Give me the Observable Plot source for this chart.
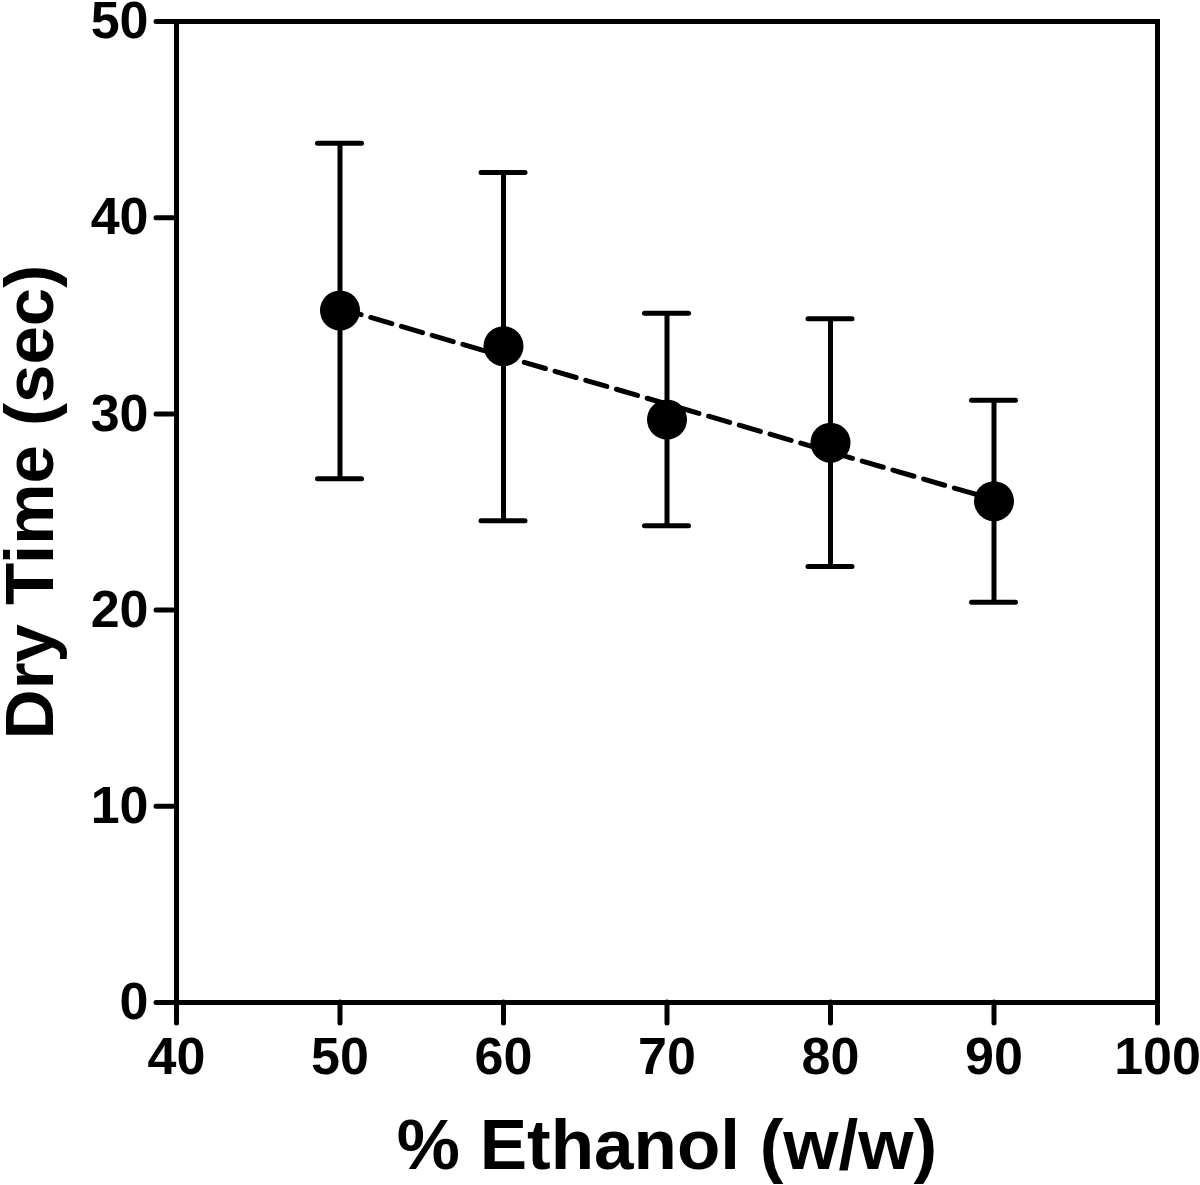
<!DOCTYPE html>
<html>
<head>
<meta charset="utf-8">
<script src="https://cdn.jsdelivr.net/npm/d3@7"></script>
<script src="https://cdn.jsdelivr.net/npm/@observablehq/plot@0.6"></script>
<style>
  html, body { margin: 0; padding: 0; background: #fff; }
  #chart svg { display: block; }
</style>
</head>
<body>
<div id="chart"></div>
<script>
const ethanol = [50, 60, 70, 80, 90];
const dryTime = [35.27, 33.45, 29.71, 28.53, 25.55];
const errHigh = [43.8, 42.3, 35.13, 34.85, 30.7];
const errLow = [26.7, 24.56, 24.3, 22.22, 20.4];
const xTicks = [40, 50, 60, 70, 80, 90, 100];
const yTicks = [0, 10, 20, 30, 40, 50];
const xTitle = "% Ethanol (w/w)";
const yTitle = "Dry Time (sec)";

const data = ethanol.map((x, i) => ({x, y: dryTime[i], hi: errHigh[i], lo: errLow[i]}));

const font = "'Liberation Sans', Arial, Helvetica, sans-serif";

const chart = Plot.plot({
  width: 1200,
  height: 1185,
  marginLeft: 176,
  marginRight: 43,
  marginTop: 21,
  marginBottom: 183,
  style: {fontFamily: font, background: "#fff", color: "#000"},
  x: {domain: [40, 100], ticks: xTicks},
  y: {domain: [0, 50], ticks: yTicks},
  marks: [
    Plot.frame({stroke: "#000", strokeWidth: 5}),
    Plot.axisX({ticks: xTicks, tickSize: 21, tickPadding: 14, strokeWidth: 5, strokeLinecap: "round",
      fontSize: 52, fontWeight: "bold", label: null, tickFormat: d => String(d)}),
    Plot.axisY({ticks: yTicks, tickSize: 20, tickPadding: 8, strokeWidth: 5, strokeLinecap: "round",
      fontSize: 52, fontWeight: "bold", label: null, tickFormat: d => String(d)}),
    Plot.ruleX(data, {x: "x", y1: "lo", y2: "hi", stroke: "#000", strokeWidth: 5}),
    Plot.ruleY(data, {y: "hi", x1: "x", x2: "x", insetLeft: -22, insetRight: -22, stroke: "#000", strokeWidth: 5, strokeLinecap: "round"}),
    Plot.ruleY(data, {y: "lo", x1: "x", x2: "x", insetLeft: -22, insetRight: -22, stroke: "#000", strokeWidth: 5, strokeLinecap: "round"}),
    Plot.linearRegressionY(data, {x: "x", y: "y", ci: 0, stroke: "#000", strokeWidth: 5, strokeDasharray: "22,10"}),
    Plot.dot(data, {x: "x", y: "y", r: 20, fill: "#000", stroke: "none"}),
    Plot.text([xTitle], {frameAnchor: "bottom", lineAnchor: "top", dy: 116, fontSize: 71, fontWeight: "bold", fill: "#000"}),
    Plot.text([yTitle], {frameAnchor: "left", textAnchor: "middle", lineAnchor: "top", rotate: -90, dx: -173, dy: -10, fontSize: 69, fontWeight: "bold", fill: "#000"})
  ]
});
document.getElementById("chart").appendChild(chart);
</script>
</body>
</html>
